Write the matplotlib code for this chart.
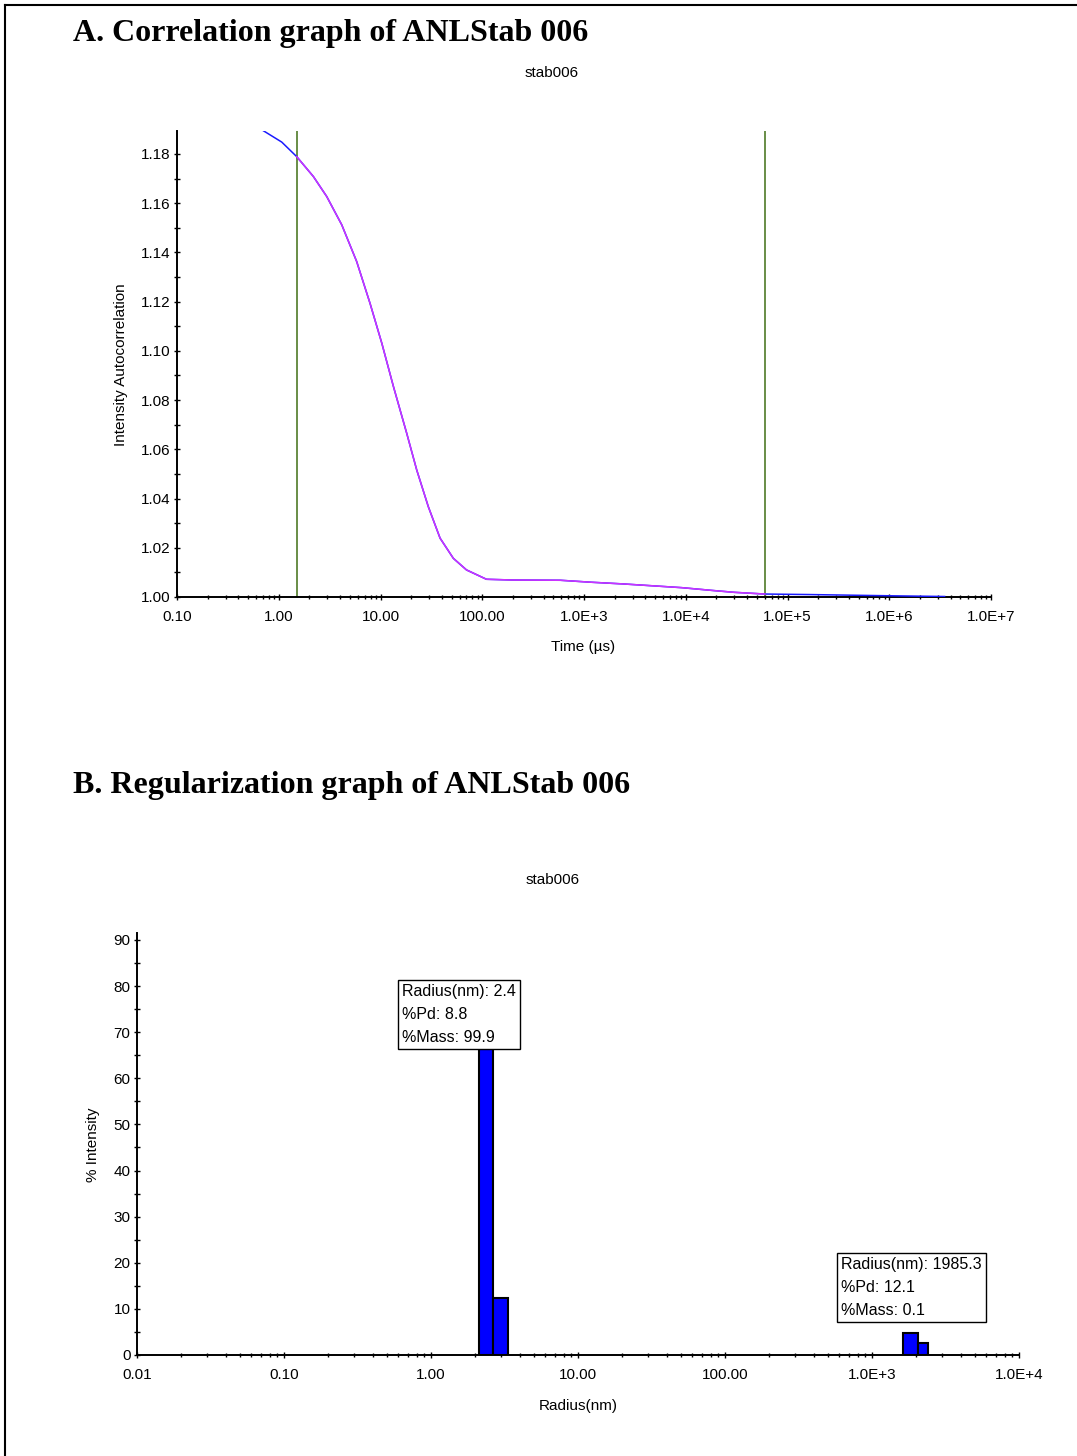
import matplotlib
matplotlib.use("Agg")
import matplotlib.pyplot as plt
from matplotlib.lines import Line2D
from matplotlib.ticker import FixedLocator, FixedFormatter, LogLocator, NullFormatter, MultipleLocator

plt.rcParams['font.family'] = ['Liberation Sans', 'DejaVu Sans']

# --- A: correlation data (time in us, intensity autocorrelation) ---
corr_time = [0.70, 1.07, 1.50, 2.19, 2.96, 4.16, 5.83, 7.89, 10.3, 13.4, 18.1, 22.7,
             29.5, 38.5, 52, 70, 110, 200, 585, 1175, 2450, 9100, 1.9e4, 3.0e4,
             6.0e4, 1.6e5, 1.0e6, 3.5e6]
corr_g2 = [1.1895, 1.1848, 1.1789, 1.1708, 1.1627, 1.1512, 1.1363, 1.1193, 1.1031,
           1.0855, 1.0665, 1.0516, 1.0367, 1.0239, 1.0157, 1.0110, 1.0072, 1.0069,
           1.0068, 1.0060, 1.0053, 1.0038, 1.0026, 1.0019, 1.0012, 1.0010, 1.0005,
           1.0002]
fit_bounds = [1.5, 6.0e4]
time_ticks = [0.1, 1, 10, 100, 1e3, 1e4, 1e5, 1e6, 1e7]
time_labels = ["0.10", "1.00", "10.00", "100.00", "1.0E+3", "1.0E+4", "1.0E+5", "1.0E+6", "1.0E+7"]
g2_ticks = [1.00, 1.02, 1.04, 1.06, 1.08, 1.10, 1.12, 1.14, 1.16, 1.18]

# --- B: regularization histogram ---
bin_left = [2.12, 2.64, 1633, 2047]
bin_right = [2.64, 3.34, 2047, 2415]
intensity = [80.3, 12.4, 4.8, 2.5]
peak_radius = [2.4, 1985.3]
peak_pd = [8.8, 12.1]
peak_mass = [99.9, 0.1]
radius_ticks = [0.01, 0.1, 1, 10, 100, 1e3, 1e4]
radius_labels = ["0.01", "0.10", "1.00", "10.00", "100.00", "1.0E+3", "1.0E+4"]

W, H = 1077, 1456
fig = plt.figure(figsize=(W / 100, H / 100), dpi=100)


def fx(px):
    return px / W


def fy(py):
    return 1 - py / H


def style_axes(ax):
    for s in ['top', 'right']:
        ax.spines[s].set_visible(False)
    for s in ['left', 'bottom']:
        ax.spines[s].set_linewidth(1.4)
    ax.tick_params(which='major', direction='inout', length=5, width=1.0,
                   labelsize=11, pad=2.2, colors='black')
    ax.tick_params(axis='x', which='major', pad=7)
    ax.tick_params(which='minor', direction='inout', length=3.5, width=1.0)
    ax.tick_params(axis='y', which='minor', length=5)


# ---------------- A ----------------
axA = fig.add_axes([fx(177), fy(597), fx(991) - fx(177), fy(131) - fy(597)])
axA.set_xscale('log')
axA.plot(corr_time, corr_g2, color='#1a1aff', lw=1.1, zorder=3)
ft = [t for t in corr_time if fit_bounds[0] <= t <= fit_bounds[1]]
fg = [g for t, g in zip(corr_time, corr_g2) if fit_bounds[0] <= t <= fit_bounds[1]]
axA.plot(ft, fg, color='#cc33ff', lw=1.1, zorder=4)
for b in fit_bounds:
    axA.axvline(b, color='#4f7a28', lw=1.2, zorder=2)
axA.set_xlim(time_ticks[0], time_ticks[-1])
axA.set_ylim(1.0, 1.1893)
axA.xaxis.set_major_locator(FixedLocator(time_ticks))
axA.xaxis.set_major_formatter(FixedFormatter(time_labels))
axA.xaxis.set_minor_locator(LogLocator(base=10, subs=range(2, 10), numticks=50))
axA.xaxis.set_minor_formatter(NullFormatter())
axA.yaxis.set_major_locator(FixedLocator(g2_ticks))
axA.yaxis.set_major_formatter(FixedFormatter(["%.2f" % v for v in g2_ticks]))
axA.yaxis.set_minor_locator(MultipleLocator(0.01))
style_axes(axA)
axA.set_xlabel("Time (µs)", fontsize=11)
axA.set_ylabel("Intensity Autocorrelation", fontsize=11)
axA.xaxis.set_label_coords(0.4988, -0.108)
axA.xaxis.label.set_va('center')
axA.yaxis.set_label_coords(-0.0688, 0.498)
axA.yaxis.label.set_va('center')

# ---------------- B ----------------
axB = fig.add_axes([fx(137), fy(1355), fx(1019) - fx(137), fy(933) - fy(1355)])
axB.set_xscale('log')
widths = [r - l for l, r in zip(bin_left, bin_right)]
axB.bar(bin_left, intensity, width=widths, align='edge', color='#0000ff',
        edgecolor='black', linewidth=1.5, zorder=3)
axB.set_xlim(radius_ticks[0], radius_ticks[-1])
axB.set_ylim(0, 91.5)
axB.xaxis.set_major_locator(FixedLocator(radius_ticks))
axB.xaxis.set_major_formatter(FixedFormatter(radius_labels))
axB.xaxis.set_minor_locator(LogLocator(base=10, subs=range(2, 10), numticks=50))
axB.xaxis.set_minor_formatter(NullFormatter())
axB.yaxis.set_major_locator(MultipleLocator(10))
axB.yaxis.set_minor_locator(MultipleLocator(5))
style_axes(axB)
axB.set_xlabel("Radius(nm)", fontsize=11)
axB.set_ylabel("% Intensity", fontsize=11)
axB.xaxis.set_label_coords(0.5, -0.1209)
axB.xaxis.label.set_va('center')
axB.yaxis.set_label_coords(-0.0499, 0.4976)
axB.yaxis.label.set_va('center')

# peak annotation boxes (top-left corner in figure pixels)
box_pos = [(402, 984), (841, 1257)]
for (bx, by), r, pd_, m in zip(box_pos, peak_radius, peak_pd, peak_mass):
    txt = "Radius(nm): %s\n%%Pd: %s\n%%Mass: %s" % (r, pd_, m)
    fig.text(fx(bx), fy(by), txt, fontsize=11.5, ha='left', va='top',
             linespacing=1.68, zorder=10,
             bbox=dict(boxstyle='square,pad=0.25', fc='white', ec='black', lw=1.0))

# chart captions
fig.text(fx(552), fy(73), "stab006", fontsize=11, ha='center', va='center')
fig.text(fx(553), fy(880), "stab006", fontsize=11, ha='center', va='center')
fig.text(fx(73), fy(41), "A. Correlation graph of ANLStab 006", fontsize=23,
         fontweight='bold', family='Liberation Serif', ha='left', va='baseline')
fig.text(fx(73), fy(793), "B. Regularization graph of ANLStab 006", fontsize=23,
         fontweight='bold', family='Liberation Serif', ha='left', va='baseline')

# page frame (left and top)
fig.add_artist(Line2D([fx(5), fx(5)], [0, fy(5)], color='black', lw=1.5))
fig.add_artist(Line2D([fx(5), 1], [fy(5), fy(5)], color='black', lw=1.5))

fig.savefig("out.png", dpi=100)
